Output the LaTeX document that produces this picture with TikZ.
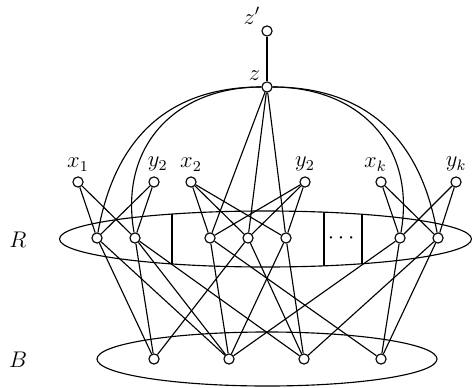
\documentclass[tikz,border=0pt]{standalone}
\usepackage{amsmath,amssymb}
\usepackage{tikz}
\usetikzlibrary{positioning}

\tikzset{
  vertex/.style={circle,draw,fill=white,minimum size=5.4pt,inner sep=0pt},
  setlabel/.style={inner sep=0pt},
}

\begin{document}
\begin{tikzpicture}[x=0.53pt,y=-0.53pt,line width=0.6pt,font=\large]
  \useasboundingbox (0,0) rectangle (472,387);
  % the two sets
  \draw (265.5,239) ellipse (206 and 28);
  \draw (267,359) ellipse (170 and 27);
  \draw (172,214.1) -- (172,263.9);
  \draw (324,212.2) -- (324,265.8);
  \draw (362,214.3) -- (362,263.7);
  \node (gap) at (343,238) {$\cdots$};
  \node[setlabel] (setR) at (18,240) {$R$};
  \node[setlabel] (setB) at (18,360) {$B$};

  % vertices
  \node[vertex,label={[label distance=-3pt]above left:$z'$}] (zp) at (267,31) {};
  \node[vertex,label={[label distance=-3pt]above left:$z$}] (z) at (267,87) {};
  \node[vertex,label={[label distance=-1pt]above:$x_1$}] (x1) at (78,182) {};
  \node[vertex,label={[label distance=-1pt,xshift=2pt]above:$y_2$}] (y1) at (154,182) {};
  \node[vertex,label={[label distance=-1pt]above:$x_2$}] (x2) at (191,182) {};
  \node[vertex,label={[label distance=-1pt]above:$y_2$}] (y2) at (305,182) {};
  \node[vertex,label={[label distance=-1pt,xshift=-3pt]above:$x_k$}] (xk) at (381,182) {};
  \node[vertex,label={[label distance=-1pt]above:$y_k$}] (yk) at (456,182) {};
  \foreach \i/\px in {1/97,2/135,3/210,4/248,5/286,6/400,7/438}
    \node[vertex] (r\i) at (\px,238) {};
  \foreach \i/\px in {1/154,2/229,3/304,4/381}
    \node[vertex] (b\i) at (\px,359) {};

  % edges
  \draw (zp) -- (z);
  \foreach \t in {r3,r4,r5}
    \draw (z) -- (\t);
  \draw (z) to[out=180,in=80,looseness=1.1] (r1);
  \draw (z) to[out=180,in=100,looseness=1.15] (r2);
  \draw (z) to[out=0,in=80,looseness=1.15] (r6);
  \draw (z) to[out=0,in=100,looseness=1.1] (r7);
  \foreach \a/\b in {x1/r1,x1/r2,y1/r1,y1/r2,x2/r3,x2/r4,x2/r5,
                     y2/r3,y2/r4,y2/r5,xk/r6,xk/r7,yk/r6,yk/r7}
    \draw (\a) -- (\b);
  \foreach \a/\b in {r1/b1,r1/b2,r2/b1,r2/b2,r2/b3,r3/b2,r3/b4,r4/b1,r4/b3,
                     r5/b2,r5/b3,r6/b2,r6/b4,r7/b3,r7/b4}
    \draw (\a) -- (\b);
\end{tikzpicture}
\end{document}
